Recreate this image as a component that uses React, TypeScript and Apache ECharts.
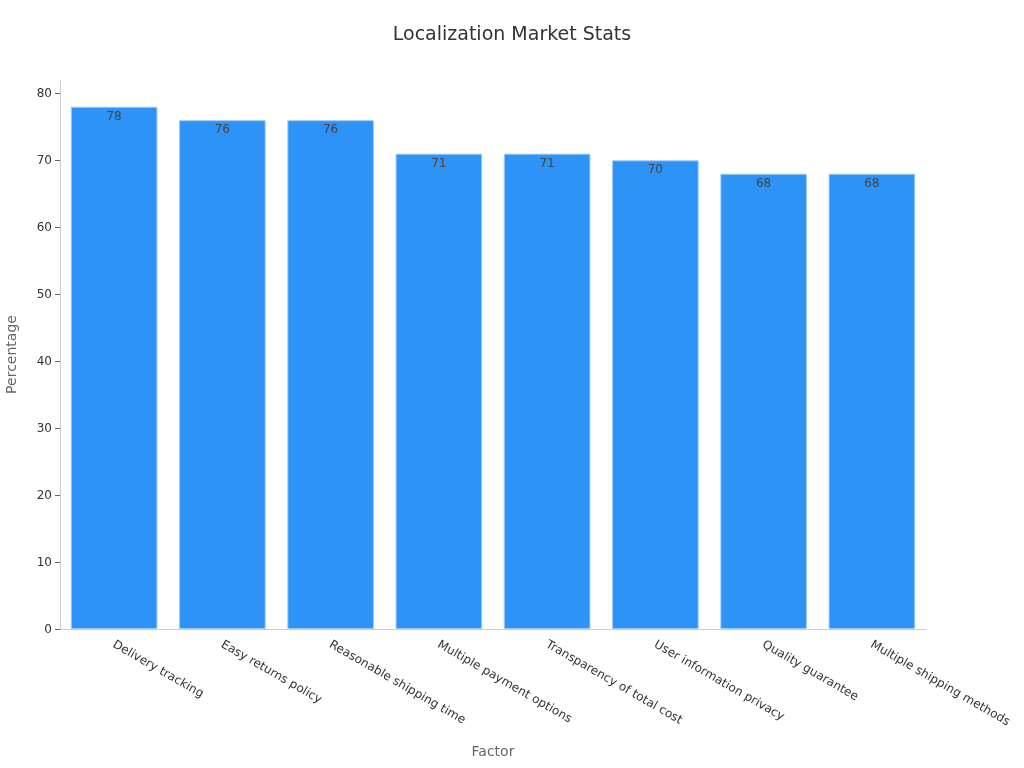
import React, { useEffect, useRef } from 'react';
import * as echarts from 'echarts';

const factors = [
  'Delivery tracking',
  'Easy returns policy',
  'Reasonable shipping time',
  'Multiple payment options',
  'Transparency of total cost',
  'User information privacy',
  'Quality guarantee',
  'Multiple shipping methods',
];
const percentages = [78, 76, 76, 71, 71, 70, 68, 68];
const yTicks = [0, 10, 20, 30, 40, 50, 60, 70, 80];

const App: React.FC = () => {
  const chartRef = useRef<HTMLDivElement>(null);

  useEffect(() => {
    const chart = echarts.init(chartRef.current!, undefined, { renderer: 'svg' });
    const font = 'DejaVu Sans';
    const option: any = {
      animation: false,
      textStyle: { fontFamily: font },
      title: {
        text: 'Localization Market Stats',
        left: 'center',
        top: 18,
        textStyle: { fontSize: 19, fontWeight: 'normal', color: '#333', fontFamily: font },
      },
      grid: { left: 60, right: 98, top: 80, bottom: 139, containLabel: false, outerBoundsMode: 'none' },
      xAxis: {
        type: 'category',
        data: factors,
        name: 'Factor',
        nameLocation: 'middle',
        nameGap: 115,
        nameTextStyle: { fontSize: 14, color: '#666' },
        axisLine: { lineStyle: { color: '#ccc' } },
        axisTick: { alignWithLabel: true, lineStyle: { color: '#999' }, length: 5 },
        axisLabel: { rotate: -30, color: '#333', fontSize: 12, margin: 14, interval: 0 },
      },
      yAxis: {
        type: 'value',
        min: 0,
        max: 82,
        name: 'Percentage',
        nameLocation: 'middle',
        nameGap: 42,
        nameTextStyle: { fontSize: 14, color: '#666' },
        axisLine: { show: true, lineStyle: { color: '#ccc' } },
        axisTick: { show: true, customValues: yTicks, lineStyle: { color: '#666' }, length: 5 },
        axisLabel: { customValues: yTicks, color: '#333', fontSize: 12 },
        splitLine: { show: false },
      },
      series: [
        {
          type: 'bar',
          data: percentages,
          barCategoryGap: '20%',
          itemStyle: { color: '#2E93F7', borderColor: '#9ECBF5', borderWidth: 1 },
          label: {
            show: true,
            position: 'insideTop',
            color: '#444',
            fontSize: 12,
            distance: 3,
          },
        },
      ],
    };
    chart.setOption(option);
    return () => {
      chart.dispose();
    };
  }, []);

  return (
    <div
      ref={chartRef}
      style={{ position: 'fixed', left: 0, top: 0, width: '1024px', height: '768px' }}
    />
  );
};

export default App;
